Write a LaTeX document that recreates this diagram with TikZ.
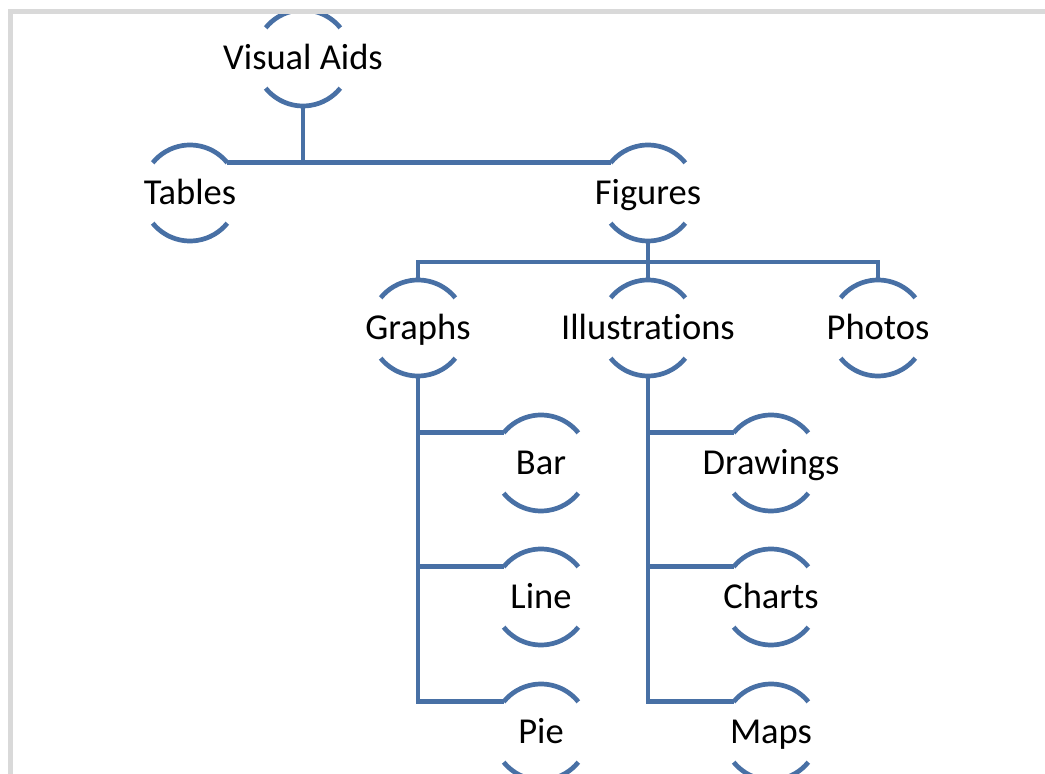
\documentclass[tikz,border=0pt]{standalone}
\usepackage{fontspec}
\setmainfont[Ligatures=NoCommon]{Carlito}
\definecolor{sa}{RGB}{72,112,165}
\definecolor{framegray}{RGB}{217,217,217}
\tikzset{
  lbl/.style={anchor=base, font=\fontsize{36.5}{44}\selectfont, inner sep=0pt},
  ring/.style={circle, minimum size=96pt, inner sep=0pt, outer sep=0pt, draw=none},
  conn/.style={draw=sa, line width=4.7pt},
  arcline/.style={draw=sa, line width=4.7pt},
  framestyle/.style={draw=framegray, line width=5pt},
}
\newcommand\bub[4]{%
  \node[ring] (#1) at (#2,{774-#3}) {};
  \node[lbl] (#1-t) at ([yshift=-12pt]#1.center) {#4};
  \draw[arcline] (#1.39) arc[start angle=39,end angle=141,radius=48pt];
  \draw[arcline] (#1.219) arc[start angle=219,end angle=321,radius=48pt];
}
\begin{document}
\begin{tikzpicture}[x=1pt,y=1pt]
\useasboundingbox (0,0) rectangle (1045,774);
\clip (0,0) rectangle (1045,774);
\fill[white] (0,0) rectangle (1045,774);

\bub{va}{303}{58}{Visual Aids}
\bub{tab}{190}{193}{Tables}
\bub{fig}{648}{193}{Figures}
\bub{gra}{418}{328}{Graphs}
\bub{ill}{648}{328}{Illustrations}
\bub{pho}{878}{328}{Photos}
\bub{bar}{541}{463}{Bar}
\bub{lin}{541}{597}{Line}
\bub{pie}{541}{732}{Pie}
\bub{dra}{771}{463}{Drawings}
\bub{cha}{771}{597}{Charts}
\bub{map}{771}{732}{Maps}

\draw[conn] (va.south) -- (va.south |- tab.39);
\draw[conn] (tab.39) -- (fig.141);
\draw[conn] (fig.south) -- (ill.north);
\draw[conn] (gra.north) -- ++(0,18) -| (pho.north);
\draw[conn] (gra.south) |- (pie.141);
\draw[conn] (gra.south |- bar.141) -- (bar.141);
\draw[conn] (gra.south |- lin.141) -- (lin.141);
\draw[conn] (ill.south) |- (map.141);
\draw[conn] (ill.south |- dra.141) -- (dra.141);
\draw[conn] (ill.south |- cha.141) -- (cha.141);

\fill[white] (0,765) rectangle (1045,774);
\draw[framestyle] (10,-10) -- (10,762.5) -- (1050,762.5);
\end{tikzpicture}
\end{document}
